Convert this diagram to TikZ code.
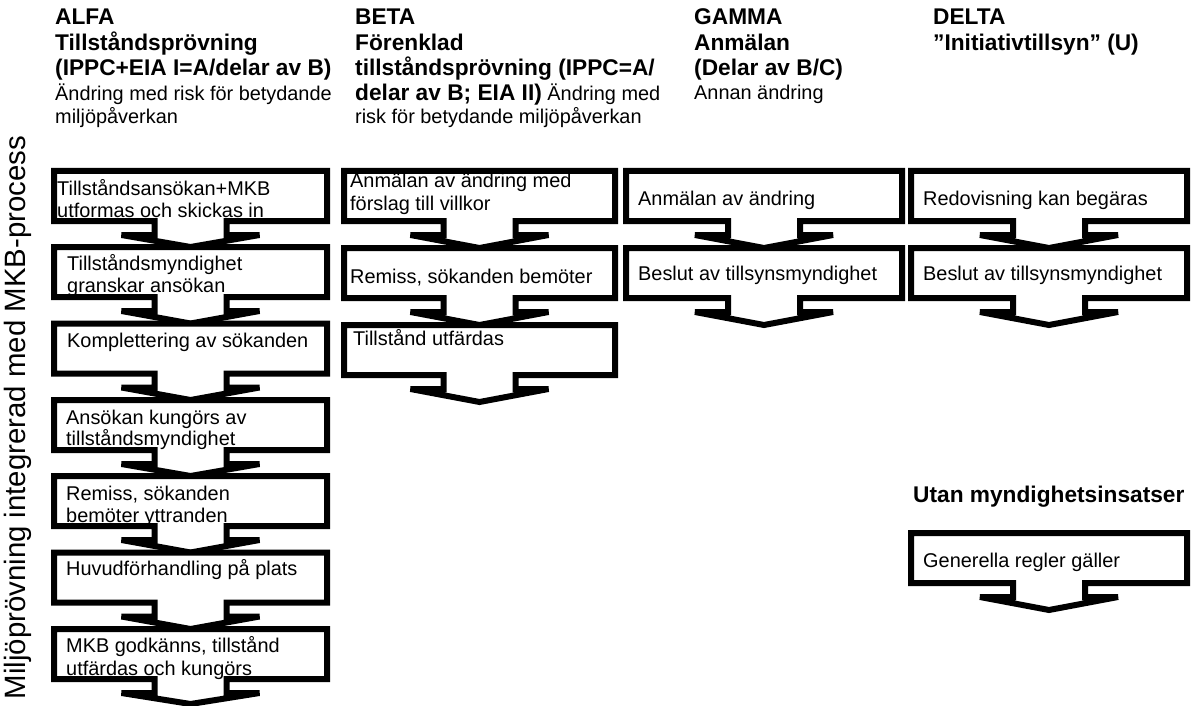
\documentclass[tikz,border=0pt]{standalone}
\usepackage{fontspec}
\setmainfont{Liberation Sans}
\tikzset{
  callout/.style={draw=black, line width=6pt, fill=white},
  body/.style={anchor=base west, inner sep=0pt, font=\fontsize{19.9pt}{23pt}\selectfont},
  head/.style={anchor=base west, inner sep=0pt, font=\fontsize{22.7pt}{26pt}\selectfont\bfseries},
  side/.style={anchor=base, inner sep=0pt, rotate=90, font=\fontsize{29.4pt}{33pt}\selectfont},
}
% name, left, right, top, tip offset
\newcommand\mycallout[5]{%
  \pgfmathsetmacro\cxx{(#2+#3)/2}%
  \path[callout] (#2,#4) -- (#3,#4) -- (#3,#4+50) -- (\cxx+36,#4+50) -- (\cxx+36,#4+64)
    -- (\cxx+69,#4+64) -- (\cxx,#4+#5) -- (\cxx-69,#4+64) -- (\cxx-36,#4+64)
    -- (\cxx-36,#4+50) -- (#2,#4+50) -- cycle;
  \coordinate (#1) at (#2,#4);
}
\begin{document}
\begin{tikzpicture}[x=1pt,y=-1pt]
\useasboundingbox (0,0) rectangle (1200,706);

% headers
\node[head] (hA1) at (55,25) {ALFA};
\node[head] (hA2) at (55,50.5) {Tillståndsprövning};
\node[head] (hA3) at (55,76) {(IPPC+EIA I=A/delar av B)};
\node[body] (hA4) at (55,101) {Ändring med risk för betydande};
\node[body] (hA5) at (55,123.5) {miljöpåverkan};

\node[head] (hB1) at (355,25) {BETA};
\node[head] (hB2) at (355,50.5) {Förenklad};
\node[head] (hB3) at (355,76) {tillståndsprövning (IPPC=A/};
\node[body] (hB4) at (355,101) {{\fontsize{22.7pt}{26pt}\selectfont\bfseries delar av B; EIA II)} Ändring med};
\node[body] (hB5) at (355,124) {risk för betydande miljöpåverkan};

\node[head] (hC1) at (694,25) {GAMMA};
\node[head] (hC2) at (694,50.5) {Anmälan};
\node[head] (hC3) at (694,76) {(Delar av B/C)};
\node[body] (hC4) at (694,100) {Annan ändring};

\node[head] (hD1) at (933,25) {DELTA};
\node[head] (hD2) at (933,50.5) {”Initiativtillsyn” (U)};

\node[head] (hU) at (913,502) {Utan myndighetsinsatser};

\node[side] (sideL) at (25,417.5) {Miljöprövning integrerad med MKB-process};

% ALFA column
\mycallout{A1}{54}{327}{171}{76}
\mycallout{A2}{54}{327}{247}{76.5}
\mycallout{A3}{54}{327}{323.5}{76.5}
\mycallout{A4}{54}{327}{400}{76}
\mycallout{A5}{54}{327}{476}{76.5}
\mycallout{A6}{54}{327}{552.5}{76.5}
\mycallout{A7}{54}{327}{629}{75}
\node[body] (tA1a) at (57,195) {Tillståndsansökan+MKB};
\node[body] (tA1b) at (57,218) {utformas och skickas in};
\node[body] (tA2a) at (67,270) {Tillståndsmyndighet};
\node[body] (tA2b) at (67,292) {granskar ansökan};
\node[body] (tA3) at (67,347) {Komplettering av sökanden};
\node[body] (tA4a) at (66,424) {Ansökan kungörs av};
\node[body] (tA4b) at (66,445) {tillståndsmyndighet};
\node[body] (tA5a) at (66,500) {Remiss, sökanden};
\node[body] (tA5b) at (66,522) {bemöter yttranden};
\node[body] (tA6) at (66,575) {Huvudförhandling på plats};
\node[body] (tA7a) at (66,652) {MKB godkänns, tillstånd};
\node[body] (tA7b) at (66,675) {utfärdas och kungörs};

% BETA column
\mycallout{B1}{344}{615}{171}{77}
\mycallout{B2}{344}{615}{248}{77}
\mycallout{B3}{344}{615}{325}{77}
\node[body] (tB1a) at (350,187) {Anmälan av ändring med};
\node[body] (tB1b) at (350,210) {förslag till villkor};
\node[body] (tB2) at (350,283) {Remiss, sökanden bemöter};
\node[body] (tB3) at (353,345) {Tillstånd utfärdas};

% GAMMA column
\mycallout{C1}{626}{902}{171}{77}
\mycallout{C2}{626}{902}{248}{77}
\node[body] (tC1) at (638,205) {Anmälan av ändring};
\node[body] (tC2) at (638,280) {Beslut av tillsynsmyndighet};

% DELTA column
\mycallout{D1}{911}{1187}{171}{77}
\mycallout{D2}{911}{1187}{248}{77}
\node[body] (tD1) at (923,205) {Redovisning kan begäras};
\node[body] (tD2) at (923,280) {Beslut av tillsynsmyndighet};

\mycallout{U1}{911}{1187}{533}{77}
\node[body] (tU1) at (923,567) {Generella regler gäller};
\end{tikzpicture}
\end{document}
